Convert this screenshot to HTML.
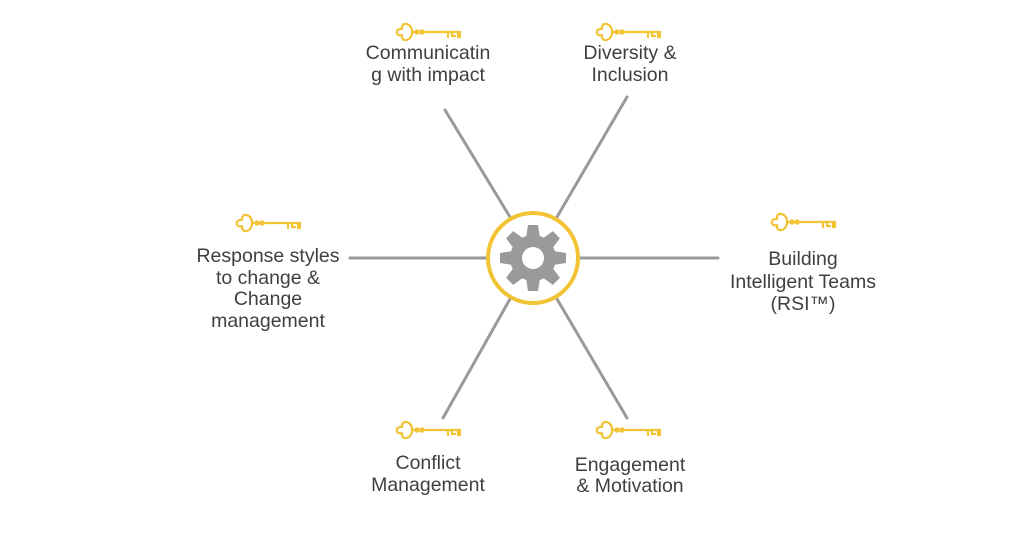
<!DOCTYPE html>
<html><head><meta charset="utf-8"><style>
html,body{margin:0;padding:0;background:#fff;}
svg{display:block}
text{font-family:"Liberation Sans",sans-serif;font-size:19.5px;fill:#3f3f3f;text-anchor:middle}
</style></head><body>
<svg width="1024" height="554" viewBox="0 0 1024 554" xmlns="http://www.w3.org/2000/svg">
<defs>
<g id="key" fill="none" stroke="#f2c335" stroke-width="2.2" stroke-linecap="round" stroke-linejoin="round">
<path d="M14,-2 C12,-10 3,-10 4,-3 C-3,-4 -3,5 4,3 C3,10 12,10 14,2 Z"/>
<line x1="14" y1="0" x2="62" y2="0"/>
<circle cx="19" cy="0" r="1.6" fill="#f2c335"/>
<circle cx="24" cy="0" r="1.6" fill="#f2c335"/>
<path d="M50,0 V5 M54,0 V4 H57 M60,0 V5 H62 V0"/>
</g>
</defs>
<g stroke="#9a9a9a" stroke-width="3" stroke-linecap="round">
<line x1="350" y1="258" x2="486" y2="258"/>
<line x1="581" y1="258" x2="718" y2="258"/>
<line x1="510" y1="217" x2="445" y2="110"/>
<line x1="557" y1="217" x2="627" y2="97"/>
<line x1="510" y1="299" x2="443" y2="418"/>
<line x1="557" y1="299" x2="627" y2="418"/>
</g>
<circle cx="533" cy="258" r="45" fill="#fff" stroke="#f2c335" stroke-width="4"/>
<g fill="#9a9a9a" transform="translate(533,258)">
<circle r="23"/>
<g id="t"><path d="M-5,-33 H5 L7,-20 H-7 Z"/></g>
<use href="#t" transform="rotate(45)"/><use href="#t" transform="rotate(90)"/>
<use href="#t" transform="rotate(135)"/><use href="#t" transform="rotate(180)"/>
<use href="#t" transform="rotate(225)"/><use href="#t" transform="rotate(270)"/>
<use href="#t" transform="rotate(315)"/>
<circle r="11" fill="#fff"/>
</g>
<use href="#key" x="398" y="32"/>
<use href="#key" x="598" y="32"/>
<use href="#key" x="238" y="223"/>
<use href="#key" x="773" y="222"/>
<use href="#key" x="398" y="430"/>
<use href="#key" x="598" y="430"/>
<text x="428" y="59">Communicatin</text>
<text x="428" y="81">g with impact</text>
<text x="630" y="59">Diversity &amp;</text>
<text x="630" y="81">Inclusion</text>
<text x="268" y="262">Response styles</text>
<text x="268" y="284">to change &amp;</text>
<text x="268" y="305">Change</text>
<text x="268" y="327">management</text>
<text x="803" y="265">Building</text>
<text x="803" y="288">Intelligent Teams</text>
<text x="803" y="310">(RSI™)</text>
<text x="428" y="469">Conflict</text>
<text x="428" y="491">Management</text>
<text x="630" y="471">Engagement</text>
<text x="630" y="492">&amp; Motivation</text>
</svg>
</body></html>
